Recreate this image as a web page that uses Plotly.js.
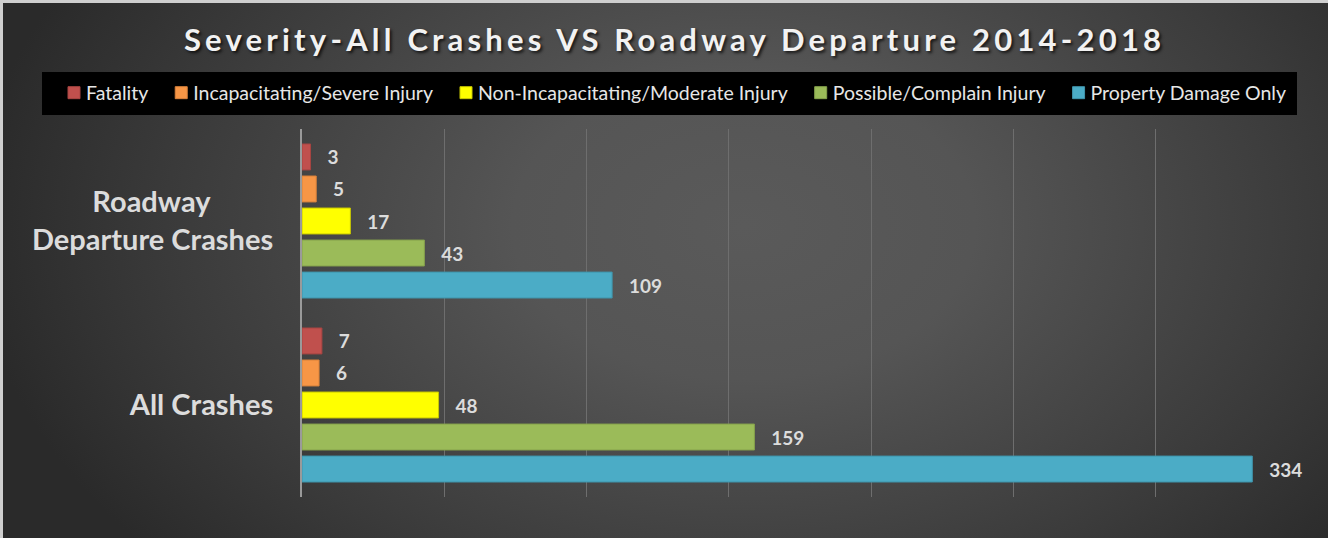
<!DOCTYPE html>
<html>
<head>
<meta charset="utf-8">
<script src="https://cdn.plot.ly/plotly-3.0.1.min.js"></script>
<style>
  html, body { margin: 0; padding: 0; background: #2a2a2a; }
  #chart {
    width: 1328px; height: 538px;
    background: radial-gradient(ellipse 58% 95% at 56% 42%, #5a5a5a 0%, #555555 30%, #3a3a3a 75%, #2a2a2a 100%);
    box-shadow: inset 3px 3px 0 #cfcfcf;
  }
  .gtitle { letter-spacing: 4.2px; }
  .legendtext { transform: translateX(-8px); }
</style>
</head>
<body>
<div id="chart"></div>
<script>
const categories = ["Roadway Departure Crashes", "All Crashes"];
const tickLabels = ["Roadway\u00a0\u00a0\u00a0\u00a0\u00a0\u00a0\u00a0\u00a0\u00a0<br>Departure Crashes", "All Crashes"];
const seriesNames = ["Fatality", "Incapacitating/Severe Injury", "Non-Incapacitating/Moderate Injury", "Possible/Complain Injury", "Property Damage Only"];
const fatality = [3, 7];
const incapacitating = [5, 6];
const nonIncapacitating = [17, 48];
const possible = [43, 159];
const propertyDamage = [109, 334];
const seriesValues = [fatality, incapacitating, nonIncapacitating, possible, propertyDamage];
const colors = ["#c0504d", "#f79646", "#ffff00", "#9bbb59", "#4bacc6"];
const lineColors = ["#a84542", "#d9823b", "#c8c800", "#86a24c", "#3f94ab"];

const traces = seriesNames.map((name, i) => ({
  type: "bar",
  orientation: "h",
  name: name,
  y: categories,
  x: seriesValues[i],
  marker: { color: colors[i], line: { color: lineColors[i], width: 1 } },
  text: seriesValues[i].map(v => "\u00a0\u00a0\u00a0" + v),
  texttemplate: "%{text}",
  textposition: "outside",
  cliponaxis: false,
  textfont: { family: "Lato, 'Open Sans', sans-serif", size: 19, color: "#dcdcdc", weight: 700 },
  hoverinfo: "x+name"
}));

const layout = {
  width: 1328, height: 538,
  paper_bgcolor: "rgba(0,0,0,0)",
  plot_bgcolor: "rgba(0,0,0,0)",
  margin: { l: 302, r: 33, t: 129, b: 41 },
  barmode: "group",
  bargap: 0.13,
  bargroupgap: 0.19,
  title: {
    text: "Severity-All Crashes VS Roadway Departure 2014-2018",
    font: { family: "Lato, 'Open Sans', sans-serif", size: 31, color: "#f2f2f2", weight: 700, shadow: "2px 2px 3px rgba(0,0,0,0.7)" },
    x: 0.508, xanchor: "center", xref: "container",
    y: 1 - 40 / 538, yanchor: "middle", yref: "container"
  },
  showlegend: true,
  legend: {
    orientation: "h",
    xref: "paper", yref: "paper",
    x: (54 - 302) / 993, xanchor: "left",
    y: (497 - 93) / 368, yanchor: "middle",
    bgcolor: "rgba(0,0,0,0)",
    font: { family: "Lato, 'Open Sans', sans-serif", size: 19.5, color: "#e6e6e6" },
    traceorder: "normal",
    itemclick: false, itemdoubleclick: false
  },
  shapes: [{
    type: "rect", xref: "paper", yref: "paper", layer: "below",
    x0: (42 - 302) / 993, x1: (1297 - 302) / 993,
    y0: (497 - 115) / 368, y1: (497 - 72) / 368,
    fillcolor: "#000000", line: { width: 0 }
  }],
  xaxis: {
    range: [0, 349],
    tick0: 0, dtick: 50,
    showgrid: true, gridcolor: "#6e6e6e", gridwidth: 1,
    zeroline: false, showline: false,
    showticklabels: false, ticks: "",
    fixedrange: true
  },
  yaxis: {
    type: "category",
    autorange: "reversed",
    tickvals: categories,
    ticktext: tickLabels,
    showline: true, linecolor: "#9a9a9a", linewidth: 2,
    showgrid: false, zeroline: false, ticks: "",
    ticklabelstandoff: 21,
    tickfont: { family: "Lato, 'Open Sans', sans-serif", size: 29, color: "#dcdcdc", weight: 700 },
    fixedrange: true
  }
};

Plotly.newPlot("chart", traces, layout, { displayModeBar: false });
</script>
</body>
</html>
